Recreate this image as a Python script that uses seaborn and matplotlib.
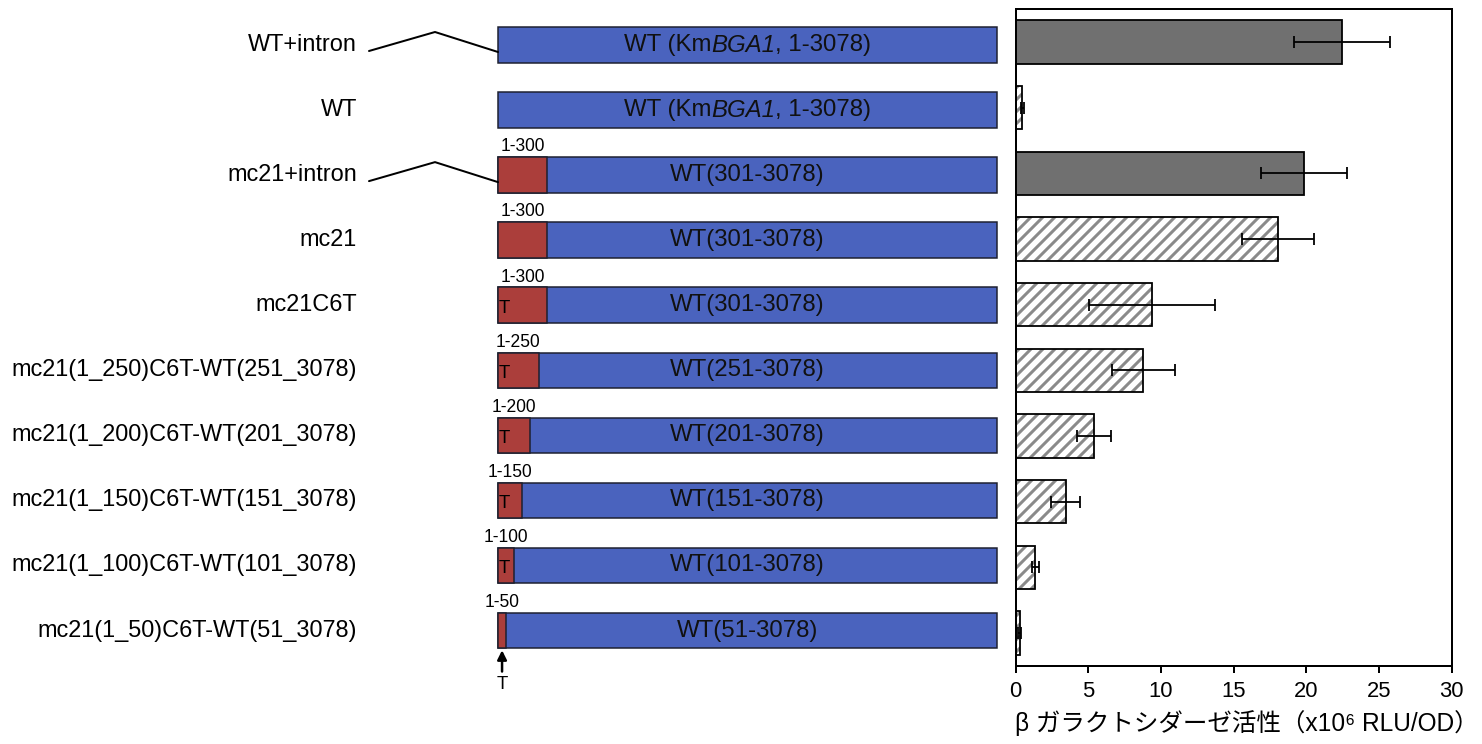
import numpy as np
import pandas as pd
import matplotlib
matplotlib.use("Agg")
import matplotlib.pyplot as plt
from matplotlib.patches import Rectangle
import seaborn as sns

# ---- data -------------------------------------------------------------
constructs = [
    "WT+intron",
    "WT",
    "mc21+intron",
    "mc21",
    "mc21C6T",
    "mc21(1_250)C6T-WT(251_3078)",
    "mc21(1_200)C6T-WT(201_3078)",
    "mc21(1_150)C6T-WT(151_3078)",
    "mc21(1_100)C6T-WT(101_3078)",
    "mc21(1_50)C6T-WT(51_3078)",
]
activity = [22.45, 0.47, 19.85, 18.05, 9.40, 8.78, 5.38, 3.45, 1.35, 0.30]
activity_sd = [3.33, 0.10, 2.96, 2.45, 4.33, 2.16, 1.17, 1.01, 0.24, 0.10]
mc21_len = [0, 0, 300, 300, 300, 250, 200, 150, 100, 50]
has_intron = [True, False, True, False, False, False, False, False, False, False]
has_c6t = [False, False, False, False, True, True, True, True, True, True]
# text in each WT segment: (string, font style) pieces
wt_text = [
    [("WT (Km", "normal"), ("BGA1", "italic"), (", 1-3078)", "normal")],
    [("WT (Km", "normal"), ("BGA1", "italic"), (", 1-3078)", "normal")],
    [("WT(301-3078)", "normal")],
    [("WT(301-3078)", "normal")],
    [("WT(301-3078)", "normal")],
    [("WT(251-3078)", "normal")],
    [("WT(201-3078)", "normal")],
    [("WT(151-3078)", "normal")],
    [("WT(101-3078)", "normal")],
    [("WT(51-3078)", "normal")],
]
gene_len = 3078
c6t_pos = 6
xticks = [0, 5, 10, 15, 20, 25, 30]
xlabel = "β ガラクトシダーゼ活性（x10⁶ RLU/OD）"

# ---- style ------------------------------------------------------------
DPI = 72
W, H = 1482, 744
sns.set_style("white")
plt.rcParams["font.family"] = ["Liberation Sans", "Noto Sans CJK JP", "DejaVu Sans"]
plt.rcParams["text.color"] = "black"
plt.rcParams["axes.labelcolor"] = "black"
plt.rcParams["xtick.color"] = "black"
plt.rcParams["xtick.labelcolor"] = "black"
plt.rcParams["hatch.linewidth"] = 3.0

BLUE = "#4A63BE"
RED = "#AB3E3B"
SOLID = "#707070"
HATCH = "#8a8a8a"
EDGE = "#1c1f2e"

fig = plt.figure(figsize=(W / DPI, H / DPI), dpi=DPI)
renderer = fig.canvas.get_renderer()


def px_rect(x0, y0, x1, y1):
    return [x0 / W, 1 - y1 / H, (x1 - x0) / W, (y1 - y0) / H]


# ---- activity bars ----------------------------------------------------
ax = fig.add_axes(px_rect(1015.5, 9, 1451.7, 665.7))
df = pd.DataFrame({"construct": constructs, "activity": activity,
                   "sd": activity_sd, "intron": has_intron})
face = {c: (SOLID if i else "white") for c, i in zip(constructs, has_intron)}

sns.barplot(data=df, y="construct", x="activity", hue="construct",
            palette=face, legend=False, orient="h", width=0.66,
            saturation=1, edgecolor=HATCH, linewidth=0, errorbar=None, ax=ax)
for p in ax.patches:
    row = int(round(p.get_y() + p.get_height() / 2))
    if not has_intron[row]:
        p.set_hatch("//")

# black outlines on top of the hatching
sns.barplot(data=df, y="construct", x="activity", orient="h", width=0.66,
            fill=False, color="black", linewidth=1.8, errorbar=None, ax=ax)

ax.errorbar(df["activity"], np.arange(len(df)), xerr=df["sd"], fmt="none",
            ecolor="black", elinewidth=1.8, capsize=6, capthick=1.8, zorder=5)

ax.set_xlim(0, 30)
ax.set_ylim(len(df) - 0.5, -0.5)
ax.set_xticks(xticks)
ax.set_yticks([])
ax.set_ylabel("")
ax.set_xlabel(xlabel, fontsize=24.5)
ax.xaxis.set_label_coords(0.531, -0.068)
ax.tick_params(axis="x", bottom=True, direction="out", length=7, width=2,
               labelsize=22, pad=8, color="black")
for s in ax.spines.values():
    s.set_visible(True)
    s.set_color("black")
    s.set_linewidth(2)

# ---- construct diagrams -----------------------------------------------
axl = fig.add_axes([0, 0, 1005 / W, 1])
axl.set_axis_off()
x0_px, x1_px = 498, 997
nt_px = (x1_px - x0_px) / gene_len
row0_px, row_px = 45, 65.06
axl.set_xlim(-x0_px / nt_px, (1005 - x0_px) / nt_px)
axl.set_ylim((H - row0_px) / row_px, -row0_px / row_px)


def centered_pieces(a, x, y, pieces, **kw):
    """Write mixed-style text pieces side by side, centred on (x, y)."""
    widths = []
    for s, st in pieces:
        t = a.text(0, 0, s, style=st, **kw)
        widths.append(t.get_window_extent(renderer).width)
        t.remove()
    offset = -sum(widths) / 2
    for (s, st), w in zip(pieces, widths):
        a.annotate(s, xy=(x, y), xytext=(offset, 0), textcoords="offset pixels",
                   ha="left", va="center", style=st, **kw)
        offset += w


box_h = 0.546
label_x = (357 - x0_px) / nt_px
for i, name in enumerate(constructs):
    axl.text(label_x, i, name, ha="right", va="center", fontsize=23.5)

    axl.add_patch(Rectangle((0, i - box_h / 2), gene_len, box_h,
                            facecolor=BLUE, edgecolor=EDGE, linewidth=1.5))
    if mc21_len[i]:
        axl.add_patch(Rectangle((0, i - box_h / 2), mc21_len[i], box_h,
                                facecolor=RED, edgecolor=EDGE, linewidth=1.5))
        axl.text(mc21_len[i] / 2, i - box_h / 2 - 0.03, f"1-{mc21_len[i]}",
                 ha="center", va="bottom", fontsize=17.5)
    centered_pieces(axl, gene_len / 2, i, wt_text[i], fontsize=24,
                    color="#111111")

    if has_c6t[i]:
        if mc21_len[i] >= 100:
            axl.text(c6t_pos, i + 0.05, "T", ha="left", va="center",
                     fontsize=18.5)
        else:
            xm = mc21_len[i] / 2
            axl.annotate("", xy=(xm, i + box_h / 2 + 0.03),
                         xytext=(xm, i + 0.63),
                         arrowprops=dict(arrowstyle="-|>", color="black",
                                         lw=2.5, mutation_scale=19,
                                         shrinkA=0, shrinkB=0))
            axl.text(xm, i + 0.83, "T", ha="center", va="center",
                     fontsize=18.5)

    if has_intron[i]:
        xs = [(369 - x0_px) / nt_px, (435 - x0_px) / nt_px, 0]
        ys = [i + 6 / row_px, i - 13 / row_px, i + 7 / row_px]
        axl.plot(xs, ys, color="black", lw=2)

fig.savefig("out.png", dpi=DPI)
